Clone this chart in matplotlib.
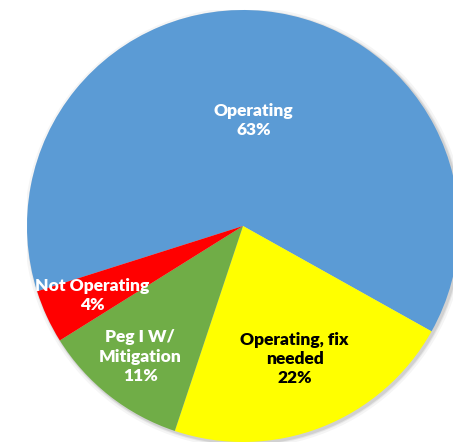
import numpy as np
import matplotlib
matplotlib.use("Agg")
import matplotlib.pyplot as plt
from matplotlib.patches import Circle

labels = ["Operating", "Operating, fix\nneeded", "Peg I W/\nMitigation", "Not Operating"]
values = [63, 22, 11, 4]
colors = ["#5B9BD5", "#FFFF00", "#70AD47", "#FF0000"]
text_colors = ["white", "black", "white", "white"]
label_dist = [0.49, 0.66, 0.77, 0.77]

plt.rcParams['font.family'] = ['Lato', 'DejaVu Sans']

fig = plt.figure(figsize=(4.53, 4.42), dpi=100)
ax = fig.add_axes([27 / 453, 0.0, 432 / 453, 432 / 442])

# faint shadow round the edge
for r, a in [(1.02, 0.08), (1.01, 0.12), (1.005, 0.2)]:
    ax.add_patch(Circle((0.008, -0.008), r, color="gray", alpha=a, lw=0, zorder=0))

start = -29.2 + values[0] / sum(values) * 360
wedges, _ = ax.pie(values, colors=colors, startangle=start, counterclock=False,
                   radius=1, wedgeprops=dict(linewidth=0, zorder=1))

total = sum(values)
for w, lab, v, tc, d in zip(wedges, labels, values, text_colors, label_dist):
    mid = np.deg2rad((w.theta1 + w.theta2) / 2)
    ax.text(d * np.cos(mid), d * np.sin(mid), f"{lab}\n{round(v / total * 100)}%",
            ha="center", va="center", color=tc, fontsize=12.5, fontweight="heavy",
            linespacing=1.25, zorder=3)

ax.set_xlim(-1, 1)
ax.set_ylim(-1, 1)
ax.set_aspect("equal")
ax.axis("off")

fig.savefig("out.png", dpi=100)
